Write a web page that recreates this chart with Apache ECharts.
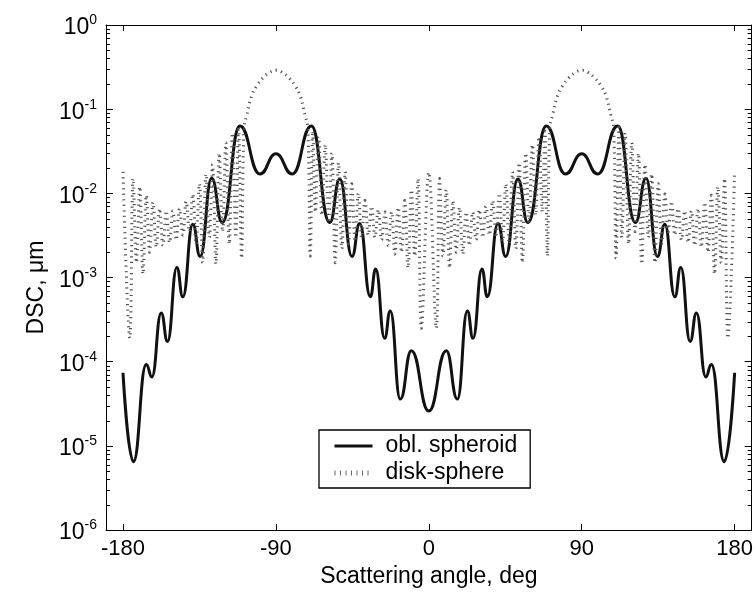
<!DOCTYPE html>
<html>
<head>
<meta charset="utf-8">
<script src="https://cdn.jsdelivr.net/npm/echarts@6/dist/echarts.min.js"></script>
<style>
html,body{margin:0;padding:0;background:#fff;}
#chart{width:756px;height:593px;}
</style>
</head>
<body>
<div id="chart"></div>
<script>
// ---------- data ----------
const xTicks = [-180, -90, 0, 90, 180];
const xTickLabels = ['-180', '-90', '0', '90', '180'];
const yTickExponents = [-6, -5, -4, -3, -2, -1, 0];
const yMinorTicks = [
  2e-6,3e-6,4e-6,5e-6,6e-6,7e-6,8e-6,9e-6,
  2e-5,3e-5,4e-5,5e-5,6e-5,7e-5,8e-5,9e-5,
  2e-4,3e-4,4e-4,5e-4,6e-4,7e-4,8e-4,9e-4,
  2e-3,3e-3,4e-3,5e-3,6e-3,7e-3,8e-3,9e-3,
  0.02,0.03,0.04,0.05,0.06,0.07,0.08,0.09,
  0.2,0.3,0.4,0.5,0.6,0.7,0.8,0.9
];

const seriesNames = ['obl. spheroid', 'disk-sphere'];

// obl. spheroid (solid)
const spheroidAngle = [-180, -173.9, -166.3, -163.0, -157.5, -153.8, -148.3, -144.8, -138.9, -134.6,
  -127.8, -121.6, -111.2, -99.4, -90.0, -80.4, -69.1, -58.3, -52.4, -45.2, -40.7, -34.4, -31.3,
  -26.0, -22.7, -16.8, -10.3, 0, 10.3, 16.8, 22.7, 26.0, 31.3, 34.4, 40.7, 45.2, 52.4, 58.3, 69.1,
  80.4, 90.0, 99.4, 111.2, 121.6, 127.8, 134.6, 138.9, 144.8, 148.3, 153.8, 157.5, 163.0, 166.3,
  173.9, 180];
const spheroidValue = [7.4e-5, 6.5e-6, 9.3e-5, 6.6e-5, 3.8e-4, 1.74e-4, 1.32e-3, 5.9e-4, 4.3e-3, 1.78e-3,
  0.0151, 4.5e-3, 0.063, 0.017, 0.0295, 0.017, 0.063, 4.5e-3, 0.0148, 1.78e-3, 4.4e-3, 5.9e-4, 1.26e-3,
  1.9e-4, 4.0e-4, 3.6e-5, 1.35e-4, 2.6e-5, 1.35e-4, 3.6e-5, 4.0e-4, 1.9e-4, 1.26e-3, 5.9e-4, 4.4e-3,
  1.78e-3, 0.0148, 4.5e-3, 0.063, 0.017, 0.0295, 0.017, 0.063, 4.5e-3, 0.0151, 1.78e-3, 4.3e-3, 5.9e-4,
  1.32e-3, 1.74e-4, 3.8e-4, 6.6e-5, 9.3e-5, 6.5e-6, 7.4e-5];

// disk-sphere (dotted, rapidly oscillating)
const diskAngle = [
  -180, -176.0, -174.05, -172.1, -170.15, -168.2, -166.25, -164.3, -162.35, -160.4,
  -158.45, -156.5, -154.55, -152.6, -150.65, -148.7, -146.75, -144.8, -142.85, -140.9,
  -138.95, -137.0, -135.05, -133.1, -131.15, -129.2, -127.25, -125.3, -123.35, -121.4,
  -119.45, -117.5, -115.55, -113.6, -112.0, -110.2, -108.8, -107.2, -104.3, -101.4,
  -97.5, -93.5, -90, -86.5, -82.5, -78.6, -75.7, -72.8, -71.2, -69.8,
  -68.3, -66.8, -64.85, -62.9, -60.95, -59.0, -57.05, -55.1, -53.15, -51.2,
  -49.25, -47.3, -45.35, -43.4, -41.45, -39.5, -37.55, -35.6, -33.65, -31.7,
  -29.75, -27.8, -25.85, -23.9, -21.95, -20.0, -18.05, -16.1, -14.15, -12.2,
  -10.25, -8.3, -6.35, -4.4, 0,
  4.4, 6.35, 8.3, 10.25, 12.2, 14.15, 16.1, 18.05, 20.0, 21.95,
  23.9, 25.85, 27.8, 29.75, 31.7, 33.65, 35.6, 37.55, 39.5, 41.45,
  43.4, 45.35, 47.3, 49.25, 51.2, 53.15, 55.1, 57.05, 59.0, 60.95,
  62.9, 64.85, 66.8, 68.3, 69.8, 71.2, 72.8, 75.7, 78.6, 82.5,
  86.5, 90, 93.5, 97.5, 101.4, 104.3, 107.2, 108.8, 110.2, 112.0,
  113.6, 115.55, 117.5, 119.45, 121.4, 123.35, 125.3, 127.25, 129.2, 131.15,
  133.1, 135.05, 137.0, 138.95, 140.9, 142.85, 144.8, 146.75, 148.7, 150.65,
  152.6, 154.55, 156.5, 158.45, 160.4, 162.35, 164.3, 166.25, 168.2, 170.15,
  172.1, 174.05, 176.0, 180
];
const diskValue = [
  0.018, 1.9e-4, 0.015, 1.5e-3, 0.012, 1.1e-3, 0.0095, 2.0e-3, 0.0078, 2.3e-3,
  0.0066, 2.4e-3, 0.0062, 2.6e-3, 0.0062, 2.8e-3, 0.0066, 3.2e-3, 0.0080, 3.5e-3,
  0.0098, 2.5e-3, 0.013, 1.5e-3, 0.017, 3.0e-3, 0.022, 1.45e-3, 0.030, 3.5e-3,
  0.040, 2.5e-3, 0.052, 3.0e-3, 0.062, 1.7e-3, 0.06, 0.084, 0.144, 0.188,
  0.237, 0.275, 0.29, 0.275, 0.237, 0.188, 0.144, 0.084, 0.06, 1.8e-3,
  0.055, 6e-3, 0.047, 5.5e-3, 0.038, 4.5e-3, 0.030, 1.5e-3, 0.023, 2.2e-3,
  0.018, 2.5e-3, 0.013, 2.7e-3, 0.010, 3.0e-3, 0.0082, 3.2e-3, 0.0070, 3.0e-3,
  0.0064, 2.8e-3, 0.0060, 2.4e-3, 0.0060, 1.9e-3, 0.0068, 2.0e-3, 0.0082, 1.3e-3,
  0.011, 1.8e-3, 0.015, 2.5e-4, 0.0178,
  2.5e-4, 0.015, 1.8e-3, 0.011, 1.3e-3, 0.0082, 2.0e-3, 0.0068, 1.9e-3, 0.0060,
  2.4e-3, 0.0060, 2.8e-3, 0.0064, 3.0e-3, 0.0070, 3.2e-3, 0.0082, 3.0e-3, 0.010,
  2.7e-3, 0.013, 2.5e-3, 0.018, 2.2e-3, 0.023, 1.5e-3, 0.030, 4.5e-3, 0.038,
  5.5e-3, 0.047, 6e-3, 0.055, 1.8e-3, 0.06, 0.084, 0.144, 0.188, 0.237,
  0.275, 0.29, 0.275, 0.237, 0.188, 0.144, 0.084, 0.06, 1.7e-3, 0.062,
  3.0e-3, 0.052, 2.5e-3, 0.040, 3.5e-3, 0.030, 1.45e-3, 0.022, 3.0e-3, 0.017,
  1.5e-3, 0.013, 2.5e-3, 0.0098, 3.5e-3, 0.0080, 3.2e-3, 0.0066, 2.8e-3, 0.0062,
  2.6e-3, 0.0062, 2.4e-3, 0.0066, 2.3e-3, 0.0078, 2.0e-3, 0.0095, 1.1e-3, 0.012,
  1.5e-3, 0.015, 1.9e-4, 0.018
];

// ---------- chart ----------
const FONT = '"Liberation Sans", Arial, Helvetica, sans-serif';
const X_MIN = -190, X_MAX = 190, Y_MIN = 1e-6, Y_MAX = 1;
const SOLID_COLOR = '#111';
const DOT_COLOR = '#555';

function zip(a, b) { return a.map((v, i) => [v, b[i]]); }

const chart = echarts.init(document.getElementById('chart'), null, { renderer: 'canvas' });

const axisLineStyle = { color: '#000', width: 1 };

const option = {
  animation: false,
  backgroundColor: '#fff',
  color: [SOLID_COLOR, DOT_COLOR],
  grid: { left: 106, right: 2, top: 25, bottom: 57, containLabel: false },
  xAxis: [
    {
      type: 'value', position: 'bottom', min: X_MIN, max: X_MAX,
      name: 'Scattering angle, deg', nameLocation: 'middle', nameGap: 30,
      nameTextStyle: { fontFamily: FONT, fontSize: 23, color: '#000' },
      axisLine: { show: true, lineStyle: axisLineStyle, onZero: false },
      axisTick: { show: true, inside: true, length: 6, lineStyle: { color: '#000' }, customValues: xTicks },
      axisLabel: {
        show: true, margin: 8, fontFamily: FONT, fontSize: 22, color: '#000',
        customValues: xTicks,
        formatter: function (v) { const i = xTicks.indexOf(v); return i >= 0 ? xTickLabels[i] : ''; }
      },
      splitLine: { show: false }
    },
    {
      type: 'value', position: 'top', min: X_MIN, max: X_MAX,
      axisLine: { show: true, lineStyle: axisLineStyle, onZero: false },
      axisTick: { show: true, inside: true, length: 6, lineStyle: { color: '#000' }, customValues: xTicks },
      axisLabel: { show: false },
      splitLine: { show: false }
    }
  ],
  yAxis: [
    {
      type: 'log', logBase: 10, position: 'left', min: Y_MIN, max: Y_MAX,
      name: 'DSC, \u03bcm', nameLocation: 'middle', nameGap: 58, nameRotate: 90,
      nameTextStyle: { fontFamily: FONT, fontSize: 23, color: '#000', padding: [0, 20, 0, 0] },
      axisLine: { show: true, lineStyle: axisLineStyle, onZero: false },
      axisTick: { show: true, inside: true, length: 7, lineStyle: { color: '#000' } },
      axisLabel: {
        show: true, margin: 9, fontFamily: FONT, color: '#000',
        formatter: function (v) {
          const e = Math.round(Math.log10(v));
          const i = yTickExponents.indexOf(e);
          if (i < 0) return '';
          return '{b|10}{s|' + yTickExponents[i] + '}';
        },
        rich: {
          b: { fontFamily: FONT, fontSize: 23, lineHeight: 23, color: '#000', padding: [6, 0, 0, 0] },
          s: { fontFamily: FONT, fontSize: 14, lineHeight: 14, color: '#000', verticalAlign: 'top' }
        }
      },
      splitLine: { show: false },
      minorTick: { show: false }
    },
    {
      type: 'log', logBase: 10, position: 'right', min: Y_MIN, max: Y_MAX,
      axisLine: { show: true, lineStyle: axisLineStyle, onZero: false },
      axisTick: { show: true, inside: true, length: 7, lineStyle: { color: '#000' } },
      axisLabel: { show: false },
      splitLine: { show: false }
    }
  ],
  legend: {
    orient: 'vertical', left: 319, top: 430,
    padding: [4, 13, 3, 13],
    backgroundColor: '#fff', borderColor: '#000', borderWidth: 1.3, borderRadius: 0,
    itemWidth: 38, itemHeight: 14, itemGap: 3,
    selectedMode: false,
    textStyle: { fontFamily: FONT, fontSize: 23, lineHeight: 24, color: '#000', padding: [0, 0, 0, 8] },
    data: [
      { name: seriesNames[0], itemStyle: { opacity: 0, borderWidth: 0 },
        lineStyle: { color: SOLID_COLOR, width: 3, type: 'solid' } },
      { name: seriesNames[1], itemStyle: { opacity: 0, borderWidth: 0 },
        lineStyle: { color: '#666', width: 5, type: [1, 4.5], cap: 'butt' } }
    ]
  },
  series: [
    {
      name: seriesNames[0], type: 'line', xAxisIndex: 0, yAxisIndex: 0,
      data: zip(spheroidAngle, spheroidValue),
      symbol: 'none', showSymbol: false,
      smooth: 0.5, smoothMonotone: 'x',
      itemStyle: { color: SOLID_COLOR },
      lineStyle: { color: SOLID_COLOR, width: 3 },
      z: 3
    },
    {
      name: seriesNames[1], type: 'line', xAxisIndex: 0, yAxisIndex: 0,
      data: zip(diskAngle, diskValue),
      symbol: 'none', showSymbol: false,
      smooth: 0.4,
      itemStyle: { color: DOT_COLOR },
      lineStyle: { color: DOT_COLOR, width: 3, type: [1.2, 4.3], cap: 'butt' },
      z: 4
    },
    {
      name: 'minorTicks', type: 'custom', xAxisIndex: 0, yAxisIndex: 0,
      silent: true, clip: false, z: 10,
      data: yMinorTicks.map(v => [X_MIN, v]),
      renderItem: function (params, api) {
        const v = api.value(1);
        const pl = api.coord([X_MIN, v]);
        const pr = api.coord([X_MAX, v]);
        const y = Math.round(pl[1]) + 0.5;
        return {
          type: 'group',
          children: [
            { type: 'line', shape: { x1: pl[0], y1: y, x2: pl[0] + 4, y2: y }, style: { stroke: '#000', lineWidth: 1 } },
            { type: 'line', shape: { x1: pr[0] - 4, y1: y, x2: pr[0], y2: y }, style: { stroke: '#000', lineWidth: 1 } }
          ]
        };
      }
    }
  ]
};

chart.setOption(option);
</script>
</body>
</html>
